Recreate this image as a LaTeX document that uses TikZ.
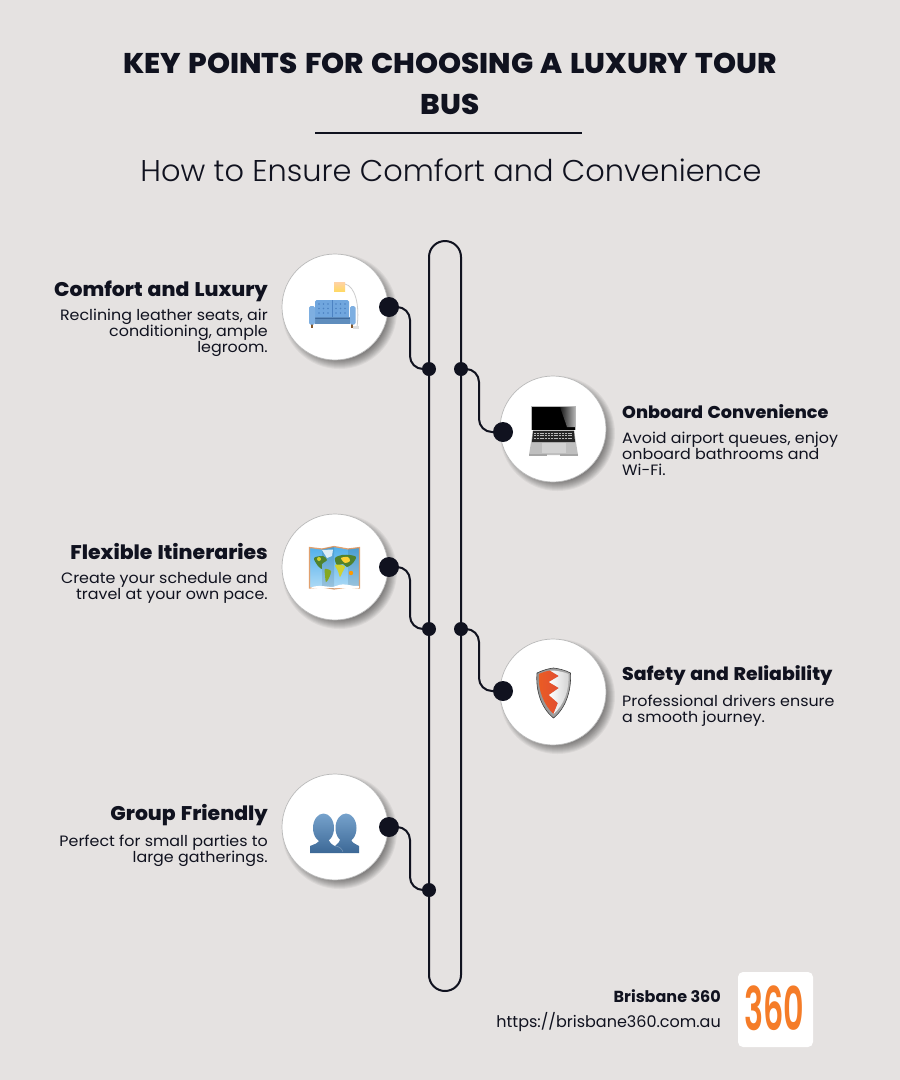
\documentclass[tikz,border=0pt]{standalone}
\usepackage{fontspec}
\setmainfont{Poppins}
\newfontfamily\lightfont{Poppins Light}[FakeStretch=1.013]
\newfontfamily\heavyfont{Poppins ExtraBold}[FakeStretch=1.03, WordSpace=1.3]
\newfontfamily\bodyfont{Poppins}[FakeStretch=1.06]
\newfontfamily\logofont{Poppins SemiBold}
\usepackage{xcolor}
\usepackage{tikz}
\definecolor{pagebg}{RGB}{229, 226, 225}
\definecolor{inkcolor}{RGB}{16, 18, 31}
\definecolor{sofablue}{RGB}{112, 166, 222}
\definecolor{sofadark}{RGB}{76, 130, 194}
\definecolor{logoorange}{RGB}{245, 124, 40}
\definecolor{mapblue}{RGB}{80, 175, 235}
\definecolor{mapgreen}{RGB}{80, 130, 45}
\definecolor{mapframe}{RGB}{225, 160, 110}
\definecolor{shieldred}{RGB}{226, 78, 50}
\definecolor{headtop}{RGB}{118, 162, 204}
\definecolor{headlow}{RGB}{60, 104, 150}
\tikzset{
  iconcircle/.style={circle, draw=gray!55, fill=white, line width=0.7pt, minimum size=106pt, inner sep=0pt},
  bigdot/.style={circle, fill=inkcolor, minimum size=20pt, inner sep=0pt},
  smalldot/.style={circle, fill=inkcolor, minimum size=14pt, inner sep=0pt},
  track/.style={draw=inkcolor, line width=2pt, rounded corners=16pt, minimum width=32pt, minimum height=750pt, inner sep=0pt},
  link/.style={draw=inkcolor, line width=2pt, rounded corners=13pt},
  headtext/.style={text=inkcolor, font=\heavyfont\fontsize{19.8}{24}\selectfont, inner sep=0pt},
  bodyleft/.style={text=inkcolor, font=\bodyfont\fontsize{15}{16}\selectfont, align=right, inner sep=0pt},
  bodyright/.style={text=inkcolor, font=\bodyfont\fontsize{15}{16}\selectfont, align=left, inner sep=0pt}
}
\newcommand{\discshadow}[2]{%
  \foreach \r in {57.5,56.5,...,47} {
    \fill[black, opacity=0.05] (#1+4.5,#2+4.5) circle (\r pt);
  }
}
\begin{document}
\begin{tikzpicture}[x=1pt, y=-1pt]
        \useasboundingbox (0,0) rectangle (900,1080);
        \fill[pagebg] (0,0) rectangle (900,1080);

        % Title block
        \node[text=inkcolor, font=\heavyfont\fontsize{28.5}{41}\selectfont, align=center, inner sep=0pt] (title) at (450,84) {KEY POINTS FOR CHOOSING A LUXURY TOUR\\BUS};
        \coordinate (ruleL) at (315,133);
        \coordinate (ruleR) at (582,133);
        \draw[inkcolor, line width=2pt] (ruleL) -- (ruleR);
        \node[text=inkcolor, font=\lightfont\fontsize{30}{36}\selectfont, inner sep=0pt] (subtitle) at (451,170) {How to Ensure Comfort and Convenience};

        % Central track
        \node[track] (spine) at (445,616) {};

        % Shadows under the discs
        \discshadow{335}{307}
        \discshadow{553}{429}
        \discshadow{335}{567}
        \discshadow{553}{692}
        \discshadow{335}{827}

        % Discs
        \node[iconcircle] (C1) at (335,307) {};
        \node[iconcircle] (C2) at (553,429) {};
        \node[iconcircle] (C3) at (335,567) {};
        \node[iconcircle] (C4) at (553,692) {};
        \node[iconcircle] (C5) at (335,827) {};

        % Dots
        \node[bigdot] (D1) at (389,307) {};
        \node[bigdot] (D2) at (503,432) {};
        \node[bigdot] (D3) at (389,567) {};
        \node[bigdot] (D4) at (503,691) {};
        \node[bigdot] (D5) at (389,827) {};
        \node[smalldot] (J1) at (429,369) {};
        \node[smalldot] (J2) at (461,369) {};
        \node[smalldot] (J3) at (429,629) {};
        \node[smalldot] (J4) at (461,629) {};
        \node[smalldot] (J5) at (429,890) {};

        % Connections
        \draw[link] (D1.center) -- ++(21,0) |- (J1.center);
        \draw[link] (J2.center) -- ++(18,0) |- (D2.center);
        \draw[link] (D3.center) -- ++(21,0) |- (J3.center);
        \draw[link] (J4.center) -- ++(18,0) |- (D4.center);
        \draw[link] (D5.center) -- ++(21,0) |- (J5.center);

        % Labels left
        \node[headtext, anchor=base east] (H1) at (268,296) {Comfort and Luxury};
        \node[bodyleft, anchor=north east] (B1) at (268,309) {Reclining leather seats, air\\conditioning, ample\\legroom.};
        \node[headtext, anchor=base east] (H3) at (268,559) {Flexible Itineraries};
        \node[bodyleft, anchor=north east] (B3) at (268,572) {Create your schedule and\\travel at your own pace.};
        \node[headtext, anchor=base east] (H5) at (268,820) {Group Friendly};
        \node[bodyleft, anchor=north east] (B5) at (268,835) {Perfect for small parties to\\large gatherings.};

        % Labels right
        \node[headtext, anchor=base west, font=\heavyfont\fontsize{17.1}{22}\selectfont] (H2) at (622,418) {Onboard Convenience};
        \node[bodyright, anchor=north west] (B2) at (622,432) {Avoid airport queues, enjoy\\onboard bathrooms and\\Wi-Fi.};
        \node[headtext, anchor=base west, font=\heavyfont\fontsize{18.3}{22}\selectfont] (H4) at (622,680) {Safety and Reliability};
        \node[bodyright, anchor=north west] (B4) at (622,695) {Professional drivers ensure\\a smooth journey.};

        % Sofa and lamp
        \draw[gray!40, line width=0.8pt] (345,284) .. controls (355,286) and (360,305) .. (357,327);
        \fill[gray!25] (353,326) rectangle (359,328.5);
        \shade[top color=orange!35, bottom color=orange!50!yellow!60] (334,282) rectangle (345,291);
        \fill[brown!70!black] (311,323) rectangle (313,328);
        \fill[brown!70!black] (351,323) rectangle (353,328);
        \fill[sofablue, rounded corners=1.5pt] (315,300) rectangle (349,319);
        \draw[sofadark, line width=0.5pt] (332,300) -- (332,318);
        \foreach \x in {319,323.5,328,336,340.5,345} {
            \foreach \y in {304,308.5,313} {
                \fill[sofadark] (\x,\y) circle (0.8pt);
            }
        }
        \fill[sofablue!85!black] (315,317) rectangle (350,324);
        \draw[sofadark!80!black, line width=0.5pt] (315,318) -- (350,318);
        \fill[sofablue!90!white, rounded corners=1.5pt] (309,306) rectangle (315,324.5);
        \fill[sofablue!90!white, rounded corners=1.5pt] (350,306) rectangle (355.5,324.5);

        % Laptop
        \fill[gray!55] (531,406) rectangle (576,430);
        \fill[black] (532,407) rectangle (575,430);
        \shade[left color=gray!20!black, right color=gray!60] (560,407) -- (575,407) -- (575,427) -- (567,427) -- cycle;
        \fill[gray!50] (533,430) -- (574,430) -- (578,455) -- (529,455) -- cycle;
        \fill[black!85] (533,431) -- (574,431) -- (575,442) -- (532,442) -- cycle;
        \foreach \y in {433,435.5,438} {
            \draw[gray!55, line width=0.8pt, dash pattern=on 2pt off 0.8pt] (534,\y) -- (573,\y);
        }
        \fill[gray!35] (541.5,443) rectangle (565.5,453);
        \fill[gray!70] (529,454) rectangle (547,455.5);
        \fill[gray!70] (560,454) rectangle (578,455.5);

        % Map
        \shade[top color=mapblue, bottom color=mapblue!45!white, draw=mapframe, line width=1.2pt] (309.5,547.5) -- (322,549) -- (334,546.5) -- (348,549) -- (359.5,547.5) -- (359.5,588) -- (348,587) -- (334,589) -- (322,587) -- (309.5,588) -- cycle;
        \fill[black, opacity=0.1] (322,549) -- (334,546.5) -- (334,589) -- (322,587) -- cycle;
        \fill[black, opacity=0.1] (348,549) -- (359,548) -- (359,588) -- (348,587) -- cycle;
        \fill[mapgreen] plot[smooth cycle] coordinates {(314,558) (323,556) (327,560) (322,564) (322,569) (318,566)};
        \fill[yellow!70!mapgreen] (319,559) circle (2pt);
        \fill[mapgreen!70!yellow] plot[smooth cycle] coordinates {(325,569) (331,571) (329,578) (326,582) (325,575)};
        \fill[mapgreen] plot[smooth cycle] coordinates {(335,558) (342,555) (350,555) (356,557) (353,563) (347,567) (343,564) (337,565)};
        \fill[yellow!60!orange!80] plot[smooth cycle] coordinates {(341,558) (348,557) (350,561) (345,563)};
        \fill[yellow!70!mapgreen] plot[smooth cycle] coordinates {(335,565) (342,565) (345,567) (342,573) (340,577) (338,571)};
        \fill[orange!80!yellow] (351,573) circle (2.2pt);
        \fill[white, opacity=0.8] (322,550) -- (333,549.5) -- (332,556) -- (327,558) -- cycle;
        \fill[white] (310,588) .. controls (320,583) and (330,589) .. (336,586) .. controls (345,582) and (352,587) .. (359,586) -- (359,588) -- (310,588) -- cycle;

        % Shield
        \shade[left color=gray!85, right color=gray!65, draw=gray!50!black, line width=0.6pt] (537,673) .. controls (543,670) and (549,668.5) .. (553.5,668) .. controls (558,668.5) and (565,670) .. (570.5,673) .. controls (571.5,690) and (566,708) .. (553.5,718) .. controls (541,708) and (535.5,690) .. (537,673) -- cycle;
        \shade[left color=shieldred!70!orange, right color=shieldred] (539,674) .. controls (543,672) and (547,671) .. (550,670.5) -- (559,676) -- (549,682) -- (559,688) -- (549,695) -- (558,703) -- (553.5,714) .. controls (544,705) and (537.5,690) .. (539,674) -- cycle;
        \shade[left color=white, right color=gray!35] (550,670.5) -- (553.5,670.5) .. controls (558,671) and (564,672) .. (568.5,674) .. controls (569.5,690) and (564,705) .. (553.5,714) -- (558,703) -- (549,695) -- (559,688) -- (549,682) -- (559,676) -- cycle;

        % Two heads
        \shade[top color=headtop, bottom color=headlow] (323.5,828) ellipse (10.5pt and 14.5pt) (346,828) ellipse (10.5pt and 14.5pt)
            (359,853) -- (359,846) .. controls (356,844) and (351,843) .. (351,838) -- (341,838) .. controls (340,841) and (338,844) .. (335,846) .. controls (332,845) and (329,842) .. (328,838) -- (320,838) .. controls (319,844) and (314,844) .. (310,846) -- (310,853) -- cycle;
        \draw[white, opacity=0.35, line width=0.4pt] (335,846) .. controls (338,846) and (342,848) .. (343,852);

        % Footer
        \node[text=inkcolor, font=\fontsize{16}{18}\selectfont\bfseries, anchor=base east, inner sep=0pt] (brand) at (721,1002) {Brisbane 360};
        \node[text=inkcolor, font=\fontsize{16}{18}\selectfont, anchor=base east, inner sep=0pt] (url) at (721,1027) {https://brisbane360.com.au};
        \node[fill=white, rounded corners=5pt, minimum size=75pt, inner sep=0pt] (logo) at (775.5,1009.5) {};
        \node[text=logoorange, font=\logofont\fontsize{60}{60}\selectfont, inner sep=0pt] (logotext) at (774,1008.5) {\scalebox{0.53}[1]{360}};
\end{tikzpicture}
\end{document}
